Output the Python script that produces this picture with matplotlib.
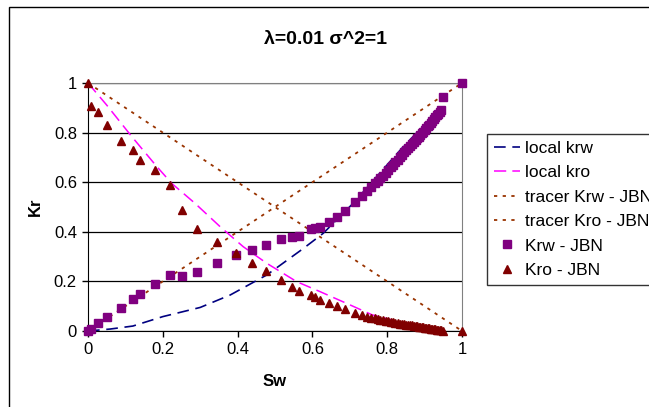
import matplotlib.pyplot as plt
import matplotlib.patches as mpatches

plt.rcParams['font.family'] = ['Liberation Sans', 'DejaVu Sans']

# JBN points (Sw, Krw, Kro)
sw = [0.0, 0.008, 0.028, 0.052, 0.087, 0.119, 0.140, 0.178, 0.219, 0.250,
      0.292, 0.344, 0.395, 0.438, 0.476, 0.515, 0.545, 0.565, 0.597, 0.607,
      0.621, 0.645, 0.665, 0.687, 0.714, 0.732, 0.746, 0.758, 0.767, 0.775,
      0.782, 0.789, 0.796, 0.803, 0.810, 0.816, 0.822, 0.828, 0.834, 0.840,
      0.846, 0.851, 0.856, 0.861, 0.866, 0.871, 0.876, 0.880, 0.884, 0.888,
      0.892, 0.896, 0.900, 0.904, 0.908, 0.912, 0.916, 0.920, 0.924, 0.928,
      0.932, 0.936, 0.940, 0.944, 0.950, 1.0]
krw_jbn = [0.0, 0.007, 0.031, 0.055, 0.094, 0.130, 0.148, 0.188, 0.224, 0.223,
           0.238, 0.273, 0.308, 0.325, 0.347, 0.371, 0.378, 0.384, 0.410, 0.414,
           0.421, 0.441, 0.461, 0.485, 0.519, 0.544, 0.566, 0.580, 0.595, 0.603,
           0.615, 0.627, 0.638, 0.650, 0.661, 0.671, 0.681, 0.691, 0.701, 0.711,
           0.720, 0.729, 0.737, 0.745, 0.754, 0.762, 0.770, 0.777, 0.784, 0.790,
           0.797, 0.804, 0.811, 0.818, 0.825, 0.832, 0.840, 0.847, 0.854, 0.861,
           0.869, 0.876, 0.884, 0.891, 0.945, 1.0]
kro_jbn = [1.0, 0.907, 0.882, 0.831, 0.767, 0.730, 0.690, 0.649, 0.589, 0.488,
           0.410, 0.360, 0.313, 0.273, 0.242, 0.205, 0.179, 0.163, 0.144, 0.138,
           0.125, 0.111, 0.102, 0.089, 0.073, 0.065, 0.058, 0.054, 0.051, 0.048,
           0.045, 0.043, 0.041, 0.039, 0.037, 0.035, 0.033, 0.032, 0.030, 0.029,
           0.027, 0.026, 0.025, 0.024, 0.023, 0.021, 0.020, 0.019, 0.018, 0.017,
           0.016, 0.015, 0.014, 0.013, 0.012, 0.011, 0.010, 0.009, 0.008, 0.007,
           0.006, 0.005, 0.004, 0.003, 0.002, 0.0]

# local curves
sw_lkrw = [0, 0.06, 0.12, 0.2, 0.3, 0.38, 0.478, 0.576, 0.629, 0.709, 0.78, 0.843, 0.90, 0.956]
lkrw = [0, 0.008, 0.02, 0.058, 0.095, 0.145, 0.226, 0.333, 0.394, 0.515, 0.636, 0.743, 0.831, 0.918]
sw_lkro = [0, 0.05, 0.117, 0.184, 0.224, 0.286, 0.353, 0.415, 0.478, 0.558, 0.620, 0.692, 0.76, 0.83, 0.90, 0.955]
lkro = [1, 0.911, 0.784, 0.663, 0.595, 0.515, 0.421, 0.340, 0.273, 0.199, 0.159, 0.111, 0.065, 0.038, 0.016, 0.001]

# tracer lines
sw_tr = [0, 1]
tr_krw = [0, 1]
tr_kro = [1, 0]

fig = plt.figure(figsize=(6.49, 4.07), dpi=100)
ax = fig.add_axes([88/649, 1-331/407, (462-88)/649, (331-83)/407])

ax.plot(sw_lkrw, lkrw, color='#000080', lw=1.2, ls=(0, (7, 4)), label='local krw')
ax.plot(sw_lkro, lkro, color='#ff00ff', lw=1.1, ls=(0, (8, 4)), label='local kro')
ax.plot(sw_tr, tr_krw, color='#993300', lw=1.3, ls=(0, (1.8, 3)), label='tracer Krw - JBN')
ax.plot(sw_tr, tr_kro, color='#993300', lw=1.3, ls=(0, (1.8, 3)), label='tracer Kro - JBN')
ax.plot(sw, krw_jbn, 's', color='#800080', ms=5.5, label='Krw - JBN', clip_on=False, zorder=5)
ax.plot(sw, kro_jbn, '^', color='#800000', ms=6, label='Kro - JBN', clip_on=False, zorder=5)

ax.set_xlim(0, 1)
ax.set_ylim(0, 1)
ax.set_xticks([0, 0.2, 0.4, 0.6, 0.8, 1])
ax.set_xticklabels(['0', '0.2', '0.4', '0.6', '0.8', '1'])
ax.set_yticks([0, 0.2, 0.4, 0.6, 0.8, 1])
ax.set_yticklabels(['0', '0.2', '0.4', '0.6', '0.8', '1'])
ax.tick_params(direction='out', length=4, width=1, labelsize=12, pad=4)
ax.yaxis.grid(True, color='black', lw=0.9)
ax.set_axisbelow(True)
for s in ['top', 'right']:
    ax.spines[s].set_color('#808080')
ax.spines['left'].set_color('black')
ax.spines['bottom'].set_color('black')

ax.set_xlabel('Sw', fontsize=12, fontweight='bold', labelpad=12)
ax.set_ylabel('Kr', fontsize=12, fontweight='bold', labelpad=8, rotation=90)

fig.text(325/649, 1-40/407, 'λ=0.01 σ^2=1', ha='center', va='center',
         fontsize=14, fontweight='bold')

leg = fig.legend(loc='upper left', bbox_to_anchor=(487/649, 1-134/407),
                 fontsize=12.5, frameon=True, fancybox=False, edgecolor='black',
                 handlelength=1.5, handletextpad=0.3, labelspacing=0.53,
                 borderpad=0.4, borderaxespad=0)
leg.get_frame().set_linewidth(1)

# chart area border
fig.patches.append(mpatches.Rectangle((9/649, -0.1), 1.2, 1.1 - 7/407, fill=False,
                                      edgecolor='black', lw=1, transform=fig.transFigure))

fig.savefig('out.png', dpi=100)
